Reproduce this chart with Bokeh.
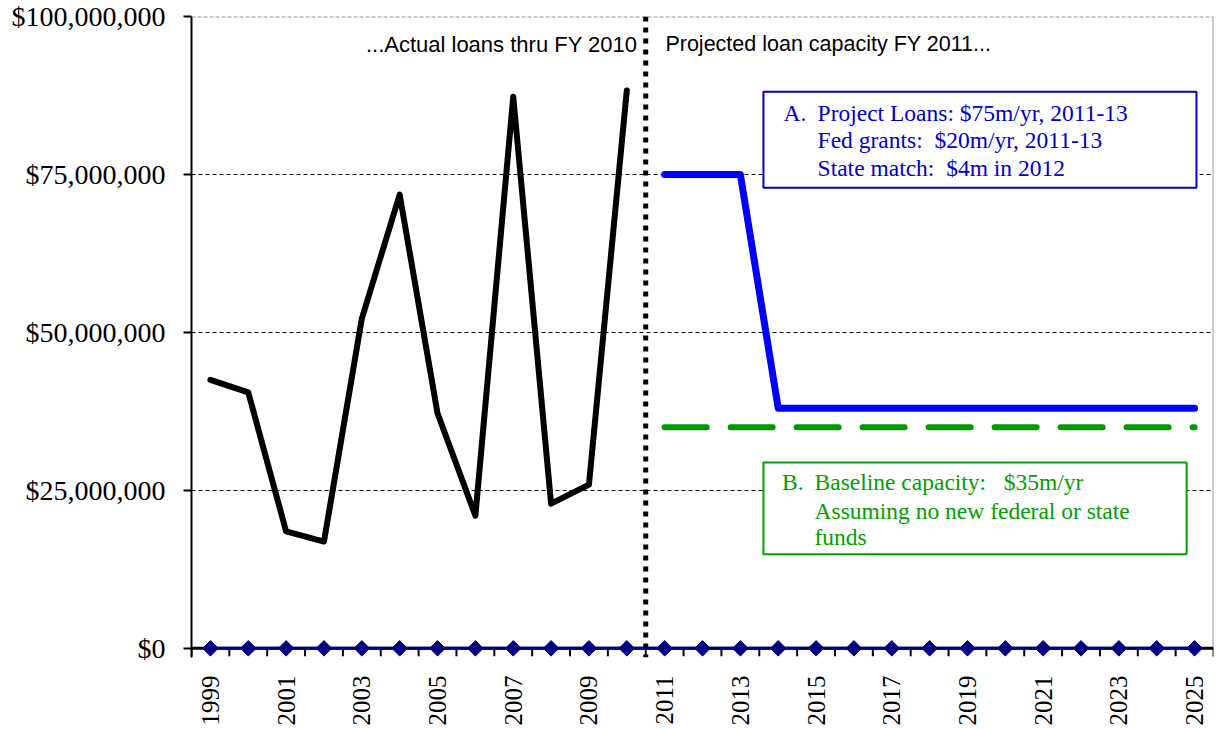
from bokeh.plotting import figure
from bokeh.models import (FixedTicker, NumeralTickFormatter, Span, BoxAnnotation, Label)
from bokeh.embed import file_html
from bokeh.resources import INLINE
import math

# ---- data ----
actual_years = [1999, 2000, 2001, 2002, 2003, 2004, 2005, 2006, 2007, 2008, 2009, 2010]
actual_loans = [42.5e6, 40.5e6, 18.5e6, 16.9e6, 52.2e6, 71.8e6, 37.2e6, 21.0e6, 87.3e6, 22.9e6, 25.9e6, 88.3e6]

proj_years = list(range(2011, 2026))
proj_loans_a = [75e6, 75e6, 75e6] + [38e6] * 12
baseline_b = [35e6] * 15

all_years = list(range(1999, 2026))
zero_series = [0] * len(all_years)

tick_years = list(range(1999, 2026, 2))
y_ticks = [0, 25e6, 50e6, 75e6, 100e6]

NB = "\u00a0"
box_a_lines = ["Project Loans: $75m/yr, 2011-13",
               "Fed grants:" + NB + NB + "$20m/yr, 2011-13",
               "State match:" + NB + NB + "$4m in 2012"]
box_b_lines = ["Baseline capacity:" + NB + NB + NB + "$35m/yr",
               "Assuming no new federal or state",
               "funds"]

SERIF = "Liberation Serif"
SANS = "Liberation Sans"

Y0 = -1.45e6          # frame extends a little below $0 so zero-line markers are not clipped
TICK_LEN = 1.27e6     # category tick length below the zero line (~8px)

W, H = 1216, 729
p = figure(width=W, height=H, output_backend="svg", toolbar_location=None,
           x_range=(1998.5, 2025.5), y_range=(Y0, 100e6),
           min_border_left=191, min_border_right=3, min_border_top=16, min_border_bottom=72)
p.outline_line_color = None
p.background_fill_color = "white"

# x axis: labels only (ticks and line drawn at $0 below)
p.xaxis.ticker = FixedTicker(ticks=tick_years, minor_ticks=[])
p.xaxis.major_tick_line_color = None
p.xaxis.minor_tick_line_color = None
p.xaxis.major_tick_out = 0
p.xaxis.major_tick_in = 0
p.xaxis.axis_line_color = None
p.xaxis.major_label_orientation = math.pi / 2
p.xaxis.major_label_text_font = SERIF
p.xaxis.major_label_text_font_size = "25px"
p.xaxis.major_label_text_color = "black"
p.xaxis.major_label_standoff = 18

p.yaxis.ticker = FixedTicker(ticks=y_ticks, minor_ticks=[])
p.yaxis.formatter = NumeralTickFormatter(format="$0,0")
p.yaxis.axis_line_color = "black"
p.yaxis.axis_line_width = 2
p.yaxis.major_tick_line_color = "black"
p.yaxis.major_tick_line_width = 2
p.yaxis.major_tick_out = 8
p.yaxis.major_tick_in = 0
p.yaxis.major_label_text_font = SERIF
p.yaxis.major_label_text_font_size = "28px"
p.yaxis.major_label_text_color = "black"
p.yaxis.major_label_standoff = 18

p.xgrid.grid_line_color = None
p.ygrid.ticker = FixedTicker(ticks=[25e6, 50e6, 75e6])
p.ygrid.grid_line_color = "black"
p.ygrid.grid_line_width = 1
p.ygrid.grid_line_dash = "4 3"

# top gray dashed and right gray border
p.add_layout(Span(location=100e6, dimension="width", line_color="#999999", line_width=2, line_dash="4 2"))
p.add_layout(Span(location=2025.5, dimension="height", line_color="#999999", line_width=2))
# category axis line at $0
p.add_layout(Span(location=0, dimension="width", line_color="black", line_width=3))

# category tick marks between years
bounds = [y - 0.5 for y in all_years] + [all_years[-1] + 0.5]
p.segment(x0=bounds, y0=[0] * len(bounds), x1=bounds, y1=[-TICK_LEN] * len(bounds),
          line_color="black", line_width=2)

# divider
p.add_layout(Span(location=2010.5, dimension="height", line_color="black", line_width=5, line_dash="5 6"))

# series
p.line(actual_years, actual_loans, line_color="black", line_width=6, line_cap="round", line_join="round")
p.line(proj_years, proj_loans_a, line_color="#0000FF", line_width=7, line_cap="round", line_join="round")
p.line(proj_years, baseline_b, line_color="#009900", line_width=6, line_dash="42 24", line_cap="round")

zl = p.line(all_years, zero_series, line_color="#000080", line_width=3)
zl.level = "overlay"
zs = p.scatter(all_years, zero_series, marker="square", size=11, angle=math.pi / 4,
               fill_color="#000080", line_color="#000080", line_width=1)
zs.level = "overlay"

# boxes
p.add_layout(BoxAnnotation(left=2013.61, right=2025.05, top=88.1e6, bottom=72.9e6,
                           fill_color="white", fill_alpha=1, line_color="#0000CC", line_alpha=1,
                           line_width=2, level="overlay"))
p.add_layout(BoxAnnotation(left=2013.61, right=2024.79, top=29.4e6, bottom=14.9e6,
                           fill_color="white", fill_alpha=1, line_color="#00A000", line_alpha=1,
                           line_width=2, level="overlay"))

def add_label(x, y, text, color, font, size, align="left"):
    p.add_layout(Label(x=x, y=y, text=text, text_color=color, text_font=font,
                       text_font_size=size, text_align=align, text_baseline="middle", level="overlay"))

add_label(2010.28, 95.6e6, "...Actual loans thru FY 2010", "black", SANS, "22px", "right")
add_label(2011.02, 95.6e6, "Projected loan capacity FY 2011...", "black", SANS, "21.5px")

a_y = [84.8e6, 80.4e6, 76.1e6]
add_label(2014.14, a_y[0], "A.", "#0000CC", SERIF, "23.5px")
for yy, t in zip(a_y, box_a_lines):
    add_label(2015.04, yy, t, "#0000CC", SERIF, "23.5px")

b_y = [26.3e6, 21.8e6, 17.6e6]
add_label(2014.1, b_y[0], "B.", "#00A000", SERIF, "23.5px")
for yy, t in zip(b_y, box_b_lines):
    add_label(2014.96, yy, t, "#00A000", SERIF, "23.5px")

open("out.html", "w").write(file_html(p, INLINE))
